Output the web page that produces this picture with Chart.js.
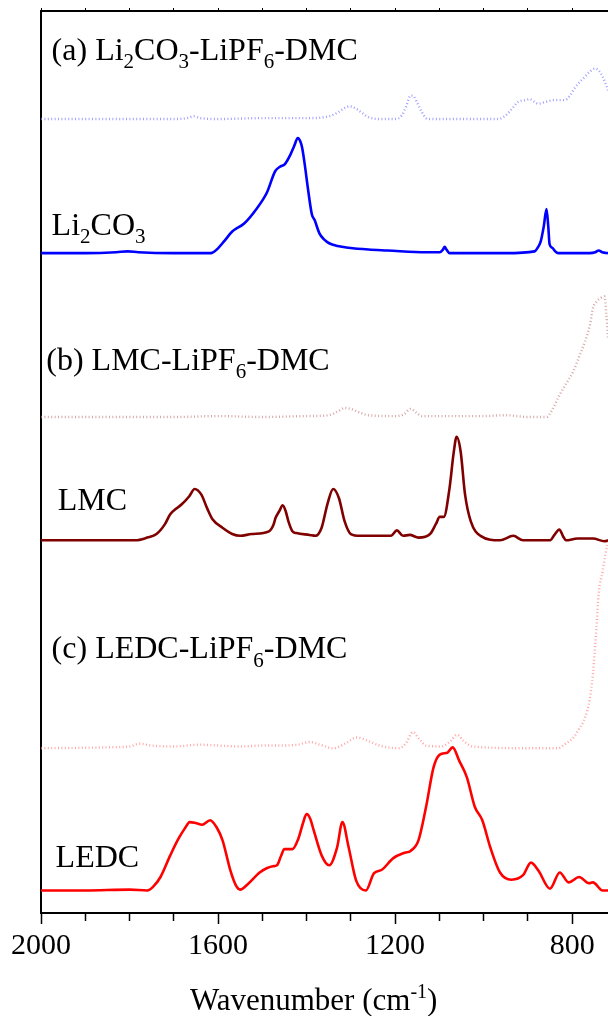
<!DOCTYPE html>
<html>
<head>
<meta charset="utf-8">
<script src="https://cdn.jsdelivr.net/npm/chart.js@4.4.0/dist/chart.umd.min.js"></script>
<style>
  html, body { margin: 0; padding: 0; background: #fff; }
  canvas { display: block; }
</style>
</head>
<body>
<canvas id="ftir-chart" width="608" height="1016"></canvas>
<script>
// FTIR spectra (cm-1 vs a.u. above each trace's own baseline)
const li2co3Wn = [2000, 1900, 1830, 1804, 1780, 1700, 1616, 1603, 1585, 1568, 1541, 1515, 1489, 1471, 1460, 1449, 1436, 1428, 1420, 1414, 1410, 1404, 1397, 1388, 1382, 1371, 1360, 1349, 1330, 1305, 1260, 1217, 1130, 1099, 1092, 1088, 1084, 1077, 950, 885, 878, 871, 864, 858, 854, 851, 845, 838, 832, 760, 748, 740, 732, 719];
const li2co3Abs = [0, 0, 0.01, 0.02, 0.01, 0, 0, 0.04, 0.14, 0.24, 0.33, 0.48, 0.68, 0.91, 0.96, 0.99, 1.10, 1.19, 1.28, 1.24, 1.17, 0.98, 0.72, 0.43, 0.37, 0.22, 0.15, 0.11, 0.08, 0.06, 0.04, 0.03, 0.01, 0.01, 0.04, 0.07, 0.04, 0, 0, 0.02, 0.06, 0.13, 0.30, 0.49, 0.30, 0.10, 0.06, 0.02, 0, 0, 0.01, 0.03, 0.01, 0];

const li2co3ElecWn = [2000, 1800, 1700, 1670, 1655, 1640, 1600, 1500, 1400, 1350, 1330, 1315, 1303, 1290, 1275, 1260, 1230, 1200, 1185, 1175, 1165, 1158, 1150, 1140, 1126, 1050, 967, 950, 935, 922, 905, 896, 885, 877, 860, 840, 817, 805, 795, 785, 775, 761, 749, 740, 731, 725, 719];
const li2co3ElecAbs = [0, 0, 0, 0.01, 0.03, 0.01, 0, 0.01, 0.01, 0.03, 0.07, 0.12, 0.14, 0.12, 0.07, 0.02, 0, 0, 0.04, 0.14, 0.26, 0.25, 0.18, 0.08, 0, 0, 0, 0.04, 0.12, 0.19, 0.21, 0.22, 0.19, 0.17, 0.19, 0.21, 0.21, 0.26, 0.34, 0.40, 0.45, 0.52, 0.56, 0.54, 0.47, 0.40, 0.32];

const lmcWn = [2000, 1900, 1787, 1760, 1739, 1720, 1708, 1695, 1682, 1665, 1653, 1638, 1625, 1612, 1590, 1568, 1550, 1524, 1485, 1475, 1470, 1461, 1454, 1447, 1441, 1432, 1423, 1393, 1380, 1366, 1353, 1340, 1327, 1314, 1300, 1279, 1209, 1196, 1182, 1167, 1147, 1121, 1108, 1099, 1090, 1077, 1068, 1061, 1052, 1042, 1029, 1007, 963, 933, 911, 850, 840, 829, 820, 814, 788, 770, 753, 727, 719];
const lmcAbs = [0, 0, 0, 0.03, 0.07, 0.18, 0.29, 0.35, 0.40, 0.49, 0.57, 0.51, 0.36, 0.23, 0.14, 0.07, 0.05, 0.07, 0.10, 0.17, 0.25, 0.33, 0.39, 0.32, 0.21, 0.10, 0.08, 0.06, 0.05, 0.14, 0.40, 0.57, 0.47, 0.21, 0.07, 0.05, 0.05, 0.11, 0.05, 0.06, 0.03, 0.07, 0.18, 0.26, 0.26, 0.58, 0.96, 1.15, 0.99, 0.51, 0.21, 0.05, 0, 0.05, 0, 0, 0.06, 0.12, 0.04, 0, 0.02, 0.02, 0.02, -0.01, 0];

const lmcElecWn = [2000, 1800, 1700, 1600, 1500, 1400, 1350, 1330, 1314, 1300, 1285, 1261, 1200, 1180, 1165, 1150, 1140, 1000, 950, 900, 858, 845, 832, 815, 797, 785, 771, 760, 753, 745, 736, 727, 723, 719];
const lmcElecAbs = [0, 0, 0, 0.01, 0, 0.01, 0.02, 0.06, 0.10, 0.09, 0.06, 0.02, 0.01, 0.03, 0.09, 0.04, 0.01, 0.01, 0.02, 0, 0, 0.08, 0.21, 0.36, 0.51, 0.66, 0.84, 1.02, 1.21, 1.28, 1.32, 1.34, 1.15, 0.88];

const ledcWn = [2000, 1900, 1800, 1760, 1747, 1730, 1708, 1690, 1675, 1664, 1651, 1636, 1618, 1603, 1590, 1572, 1560, 1550, 1533, 1506, 1489, 1476, 1467, 1458, 1450, 1432, 1419, 1408, 1400, 1392, 1384, 1366, 1349, 1331, 1319, 1305, 1288, 1266, 1248, 1230, 1204, 1178, 1165, 1147, 1130, 1113, 1099, 1082, 1070, 1055, 1038, 1020, 1003, 985, 963, 937, 911, 893, 876, 850, 828, 808, 784, 762, 753, 731, 719];
const ledcAbs = [0, 0, 0.01, 0, 0.04, 0.15, 0.39, 0.57, 0.69, 0.76, 0.75, 0.73, 0.78, 0.70, 0.56, 0.22, 0.06, 0.01, 0.07, 0.20, 0.25, 0.27, 0.28, 0.38, 0.46, 0.46, 0.57, 0.75, 0.85, 0.80, 0.67, 0.39, 0.28, 0.48, 0.76, 0.48, 0.11, 0, 0.19, 0.23, 0.36, 0.42, 0.44, 0.56, 0.93, 1.37, 1.51, 1.53, 1.59, 1.44, 1.26, 0.93, 0.78, 0.48, 0.20, 0.12, 0.17, 0.31, 0.22, 0.02, 0.20, 0.09, 0.15, 0.08, 0.09, 0, 0];

const ledcElecWn = [2000, 1850, 1800, 1778, 1750, 1700, 1640, 1600, 1550, 1500, 1460, 1420, 1392, 1370, 1340, 1310, 1287, 1260, 1235, 1191, 1175, 1160, 1145, 1130, 1095, 1075, 1060, 1045, 1025, 900, 832, 815, 797, 785, 771, 760, 753, 745, 740, 731, 725, 719];
const ledcElecAbs = [0, 0.01, 0.02, 0.05, 0.03, 0.02, 0.04, 0.03, 0.02, 0.03, 0.03, 0.04, 0.07, 0.04, 0, 0.06, 0.12, 0.08, 0.03, 0, 0.06, 0.18, 0.10, 0.03, 0.02, 0.08, 0.15, 0.08, 0.02, 0, 0, 0.05, 0.12, 0.21, 0.34, 0.55, 0.83, 1.35, 1.72, 1.97, 2.15, 2.30];

// vertical stacking offsets
const li2co3ElecOffset = 8.82;
const li2co3Offset = 7.33;
const lmcElecOffset = 5.51;
const lmcOffset = 4.14;
const ledcElecOffset = 1.83;
const ledcOffset = 0.25;

const xTicks = [2000, 1600, 1200, 800];

const FONT = '"Liberation Serif", "Times New Roman", serif';

function toPoints(wn, abs, offset) {
    return wn.map((w, i) => ({ x: w, y: abs[i] + offset }));
}

function solid(label, wn, abs, offset, color) {
    return {
        label,
        data: toPoints(wn, abs, offset),
        borderColor: color,
        borderWidth: 2.6,
        pointRadius: 0,
        cubicInterpolationMode: "monotone",
        fill: false,
    };
}

function dotted(label, wn, abs, offset, color) {
    return {
        label,
        data: toPoints(wn, abs, offset),
        borderColor: color,
        borderWidth: 2.4,
        borderDash: [1, 2.4],
        borderCapStyle: "butt",
        pointRadius: 0,
        cubicInterpolationMode: "monotone",
        fill: false,
    };
}

// text with sub/superscripts, placed in data coordinates
const textLabels = [
    { runs: [["(a) Li"], ["2", "sub"], ["CO"], ["3", "sub"], ["-LiPF"], ["6", "sub"], ["-DMC"]], wn: 1976, v: 9.48 },
    { runs: [["Li"], ["2", "sub"], ["CO"], ["3", "sub"]], wn: 1976, v: 7.53 },
    { runs: [["(b) LMC-LiPF"], ["6", "sub"], ["-DMC"]], wn: 1988, v: 6.03 },
    { runs: [["LMC"]], wn: 1962, v: 4.48 },
    { runs: [["(c) LEDC-LiPF"], ["6", "sub"], ["-DMC"]], wn: 1976, v: 2.83 },
    { runs: [["LEDC"]], wn: 1967, v: 0.51 },
];
const axisTitle = { runs: [["Wavenumber (cm"], ["-1", "sup"], [")"]], wn: 1384, v: -1.08 };

function drawRuns(ctx, runs, x, y, size, center) {
    const small = Math.round(size * 0.66);
    const fontFor = (m) => `${m ? small : size}px ${FONT}`;
    let width = 0;
    runs.forEach(([t, m]) => {
        ctx.font = fontFor(m);
        width += ctx.measureText(t).width;
    });
    let cx = center ? x - width / 2 : x;
    runs.forEach(([t, m]) => {
        ctx.font = fontFor(m);
        const dy = m === "sub" ? size * 0.26 : m === "sup" ? -size * 0.4 : 0;
        ctx.fillText(t, cx, y + dy);
        cx += ctx.measureText(t).width;
    });
}

const richText = {
    id: "richText",
    afterDraw(chart) {
        const { ctx, scales } = chart;
        ctx.save();
        ctx.fillStyle = "#000";
        ctx.textBaseline = "alphabetic";
        ctx.textAlign = "left";
        textLabels.forEach((l) => {
            drawRuns(ctx, l.runs, scales.x.getPixelForValue(l.wn), scales.y.getPixelForValue(l.v), 32, false);
        });
        drawRuns(ctx, axisTitle.runs, scales.x.getPixelForValue(axisTitle.wn), scales.y.getPixelForValue(axisTitle.v), 31, true);
        ctx.restore();
    },
};

const ctx = document.getElementById("ftir-chart");

new Chart(ctx, {
    type: "line",
    data: {
        datasets: [
            dotted("Li2CO3-LiPF6-DMC", li2co3ElecWn, li2co3ElecAbs, li2co3ElecOffset, "rgba(120, 120, 255, 0.7)"),
            solid("Li2CO3", li2co3Wn, li2co3Abs, li2co3Offset, "rgb(0, 0, 255)"),
            dotted("LMC-LiPF6-DMC", lmcElecWn, lmcElecAbs, lmcElecOffset, "rgba(190, 120, 120, 0.65)"),
            solid("LMC", lmcWn, lmcAbs, lmcOffset, "rgb(128, 0, 0)"),
            dotted("LEDC-LiPF6-DMC", ledcElecWn, ledcElecAbs, ledcElecOffset, "rgba(255, 120, 120, 0.65)"),
            solid("LEDC", ledcWn, ledcAbs, ledcOffset, "rgb(255, 0, 0)"),
        ],
    },
    options: {
        responsive: false,
        animation: false,
        layout: { padding: { left: 41, top: 11, right: 0, bottom: 0 } },
        plugins: { legend: { display: false }, tooltip: { enabled: false } },
        scales: {
            x: {
                type: "linear",
                position: "bottom",
                reverse: true,
                min: 719,
                max: 2000,
                afterFit: (s) => { s.height = 103; },
                border: { display: true, color: "#000", width: 2 },
                grid: {
                    drawOnChartArea: false,
                    drawTicks: true,
                    tickLength: 11,
                    tickColor: "#000",
                    tickWidth: 1.5,
                    tickBorderDash: (c) => (xTicks.includes(c.tick && c.tick.value) ? [] : [7, 20]),
                },
                ticks: {
                    stepSize: 100,
                    includeBounds: false,
                    autoSkip: false,
                    maxRotation: 0,
                    padding: 4,
                    color: "#000",
                    font: { family: FONT, size: 30 },
                    callback: (v) => (xTicks.includes(v) ? String(v) : ""),
                },
            },
            xTop: {
                type: "linear",
                position: "top",
                reverse: true,
                min: 719,
                max: 2000,
                afterFit: (s) => { s.height = 0; },
                border: { display: true, color: "#000", width: 2 },
                grid: { drawOnChartArea: false, tickLength: 3, tickColor: "#000" },
                ticks: { display: false, stepSize: 100, includeBounds: false },
            },
            y: {
                min: 0,
                max: 10.02,
                afterFit: (s) => { s.width = 0; },
                border: { display: true, color: "#000", width: 2 },
                grid: { display: false },
                ticks: { display: false },
            },
        },
    },
    plugins: [richText],
});
</script>
</body>
</html>
